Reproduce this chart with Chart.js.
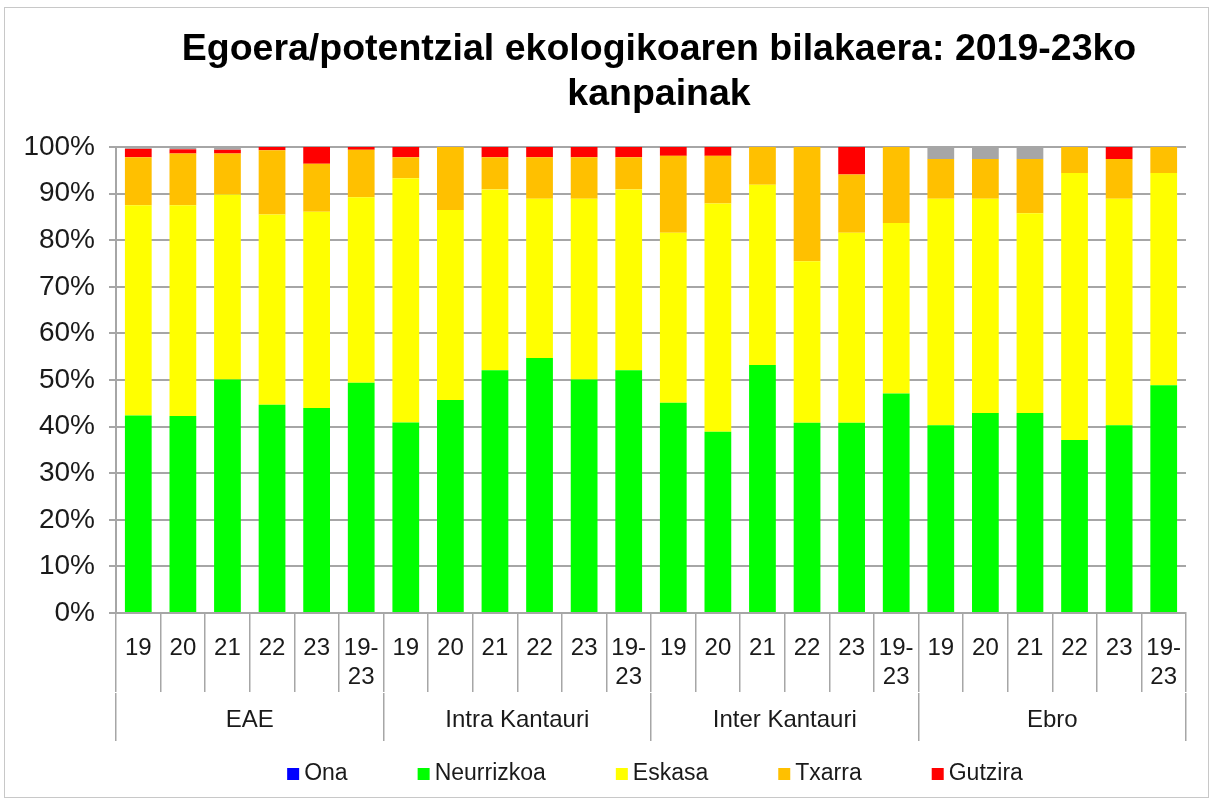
<!DOCTYPE html>
<html>
<head>
<meta charset="utf-8">
<script src="https://cdn.jsdelivr.net/npm/chart.js@4.4.1/dist/chart.umd.min.js"></script>
<style>
  html, body { margin: 0; padding: 0; background: #fff; }
  #wrap { position: relative; width: 1213px; height: 804px; }
  #frame { position: absolute; left: 4px; top: 7px; width: 1203px; height: 789px; border: 1px solid #c8c8c8; pointer-events: none; }
  canvas { position: absolute; left: 0; top: 0; }
</style>
</head>
<body>
<div id="wrap">
  <canvas id="egoeraChart" width="1213" height="804"></canvas>
  <div id="frame"></div>
</div>
<script>
// Campaign years, repeated for each district
const years = ['19', '20', '21', '22', '23', ['19-', '23']];
const groups = ['EAE', 'Intra Kantauri', 'Inter Kantauri', 'Ebro'];
const yTicks = [0, 10, 20, 30, 40, 50, 60, 70, 80, 90, 100];

// Share of water bodies (%) per state, EAE | Intra | Inter | Ebro
const ona = [0, 0, 0, 0, 0, 0, 0, 0, 0, 0, 0, 0, 0, 0, 0, 0, 0, 0, 0, 0, 0, 0, 0, 0];
const neurrizkoa = [42.4, 42.3, 50.1, 44.7, 44.0, 49.4, 40.9, 45.7, 52.1, 54.7, 50.1, 52.1, 45.1, 38.9, 53.2, 40.8, 40.8, 47.1, 40.3, 42.9, 42.9, 37.1, 40.3, 48.9];
const eskasa = [45.1, 45.2, 39.7, 40.8, 42.1, 39.8, 52.4, 40.8, 38.8, 34.2, 38.8, 38.8, 36.5, 49.0, 38.7, 34.7, 40.8, 36.6, 48.6, 46.0, 42.9, 57.3, 48.6, 45.5];
const txarra = [10.3, 11.1, 8.8, 13.8, 10.3, 10.2, 4.5, 13.5, 6.9, 8.9, 8.9, 6.9, 16.5, 10.2, 8.1, 24.5, 12.5, 16.3, 8.5, 8.5, 11.6, 5.6, 8.5, 5.6];
const gutzira = [1.8, 0.9, 0.8, 0.7, 3.6, 0.6, 2.2, 0, 2.2, 2.2, 2.2, 2.2, 1.9, 1.9, 0, 0, 5.9, 0, 0, 0, 0, 0, 2.6, 0];
const ezDatu = [0.4, 0.5, 0.6, 0, 0, 0, 0, 0, 0, 0, 0, 0, 0, 0, 0, 0, 0, 0, 2.6, 2.6, 2.6, 0, 0, 0];

const fontFamily = "'Liberation Sans', Arial, sans-serif";
const textColor = '#1a1a1a';
const gridColor = '#a6a6a6';

const labels = groups.flatMap(() => years);

// Excel-like legend: square swatch, wide gap between entries
const bottomLegend = {
  id: 'bottomLegend',
  afterLayout: chart => {
    // Excel centres the title a little right of the plot centre
    chart.titleBlock.left += 8;
    chart.titleBlock.right += 8;
  },
  afterDraw: chart => {
    const { ctx, chartArea } = chart;
    const items = chart.data.datasets.filter(ds => ds.inLegend);
    const box = 12;
    const gap = 5;
    const spacing = 70;
    ctx.save();
    ctx.font = `23px ${fontFamily}`;
    const widths = items.map(ds => box + gap + ctx.measureText(ds.label).width);
    const total = widths.reduce((a, b) => a + b, 0) + spacing * (items.length - 1);
    let x = (chartArea.left + chartArea.right) / 2 + 4 - total / 2;
    const y = chart.scales.x2.bottom + 40;
    ctx.textBaseline = 'middle';
    items.forEach((ds, i) => {
      ctx.fillStyle = ds.backgroundColor;
      ctx.fillRect(x, y - box / 2, box, box);
      ctx.fillStyle = textColor;
      ctx.fillText(ds.label, x + box + gap, y);
      x += widths[i] + spacing;
    });
    ctx.restore();
  },
};

const makeSet = (label, data, color, inLegend = true) => ({
  label,
  data,
  backgroundColor: color,
  borderWidth: 0,
  barPercentage: 0.6,
  categoryPercentage: 1,
  inLegend,
});

const ctx = document.getElementById('egoeraChart').getContext('2d');

new Chart(ctx, {
  type: 'bar',
  data: {
    labels,
    datasets: [
      makeSet('Ona', ona, '#0000ff'),
      makeSet('Neurrizkoa', neurrizkoa, '#00ff00'),
      makeSet('Eskasa', eskasa, '#ffff00'),
      makeSet('Txarra', txarra, '#ffc000'),
      makeSet('Gutzira', gutzira, '#ff0000'),
      makeSet('Daturik ez', ezDatu, '#a6a6a6', false),
    ],
  },
  options: {
    responsive: false,
    animation: false,
    layout: { padding: { left: 4, right: 27, top: 0, bottom: 70 } },
    plugins: {
      legend: { display: false },
      tooltip: { enabled: false },
      title: {
        display: true,
        fullSize: false,
        text: ['Egoera/potentzial ekologikoaren bilakaera: 2019-23ko', 'kanpainak'],
        color: '#000',
        font: { family: fontFamily, size: 37.5, weight: 'bold' },
        padding: { top: 27, bottom: 30 },
      },
    },
    scales: {
      x: {
        stacked: true,
        offset: true,
        border: { display: true, color: gridColor, width: 2 },
        grid: {
          offset: true,
          drawOnChartArea: false,
          tickLength: 79,
          color: gridColor,
          lineWidth: 1.5,
        },
        ticks: {
          autoSkip: false,
          maxRotation: 0,
          padding: -58,
          color: textColor,
          font: { family: fontFamily, size: 24 },
        },
        // the tick lines run through the label row, so fix the row height
        afterFit: scale => {
          scale.height = 80;
        },
      },
      x2: {
        type: 'category',
        position: 'bottom',
        labels: groups,
        offset: true,
        border: { display: false },
        grid: {
          offset: true,
          drawOnChartArea: false,
          tickLength: 48,
          color: gridColor,
          lineWidth: 1.5,
        },
        ticks: {
          padding: -35,
          maxRotation: 0,
          color: textColor,
          font: { family: fontFamily, size: 24 },
        },
        afterFit: scale => {
          scale.height = 41;
        },
      },
      y: {
        stacked: true,
        min: 0,
        max: 100,
        border: { display: true, color: gridColor, width: 2 },
        grid: { color: gridColor, lineWidth: 2, tickLength: 7 },
        afterBuildTicks: scale => {
          scale.ticks = yTicks.map(value => ({ value }));
        },
        ticks: {
          padding: 14,
          color: textColor,
          font: { family: fontFamily, size: 28 },
          callback: value => value + '%',
        },
        afterFit: scale => {
          scale.width = 112;
        },
      },
    },
  },
  plugins: [bottomLegend],
});
</script>
</body>
</html>
